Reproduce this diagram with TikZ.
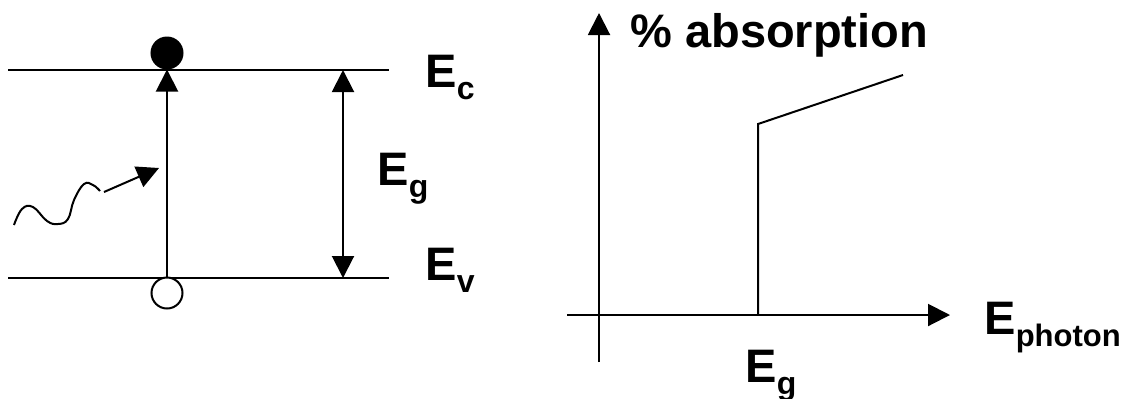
\documentclass[tikz,border=0pt]{standalone}
\usepackage{fontspec}
\setmainfont{Liberation Sans}
\usetikzlibrary{arrows.meta, positioning}
\newcommand{\bandsub}[1]{\raisebox{-6pt}{\fontsize{16}{16}\selectfont #1}}

\begin{document}
\begin{tikzpicture}[
    x=0.5pt, y=-0.5pt,
    font=\fontsize{23.5}{28}\selectfont\bfseries,
    level/.style={line width=1pt},
    arrow/.style={-{Triangle[length=11pt, width=11pt]}, line width=1pt},
    dblarrow/.style={{Triangle[length=11pt, width=11pt]}-{Triangle[length=11pt, width=11pt]}, line width=1pt},
    carrier/.style={circle, draw, line width=1pt, minimum size=15.5pt, inner sep=0pt},
    lbl/.style={anchor=base west, inner sep=0pt}
  ]
    \useasboundingbox (0,0) rectangle (1127,398);

    % Band edges
    \coordinate (cbleft) at (8,70);
    \coordinate (cbright) at (389,70);
    \coordinate (vbleft) at (8,278);
    \coordinate (vbright) at (389,278);
    \draw[level] (cbleft) -- (cbright);
    \draw[level] (vbleft) -- (vbright);

    % Electron and hole
    \node[carrier, fill=black] (elec) at (167,53) {};
    \node[carrier, fill=white] (hole) at (167,293) {};
    \draw[arrow] (hole.north) -- (elec.south);

    % Gap arrow
    \coordinate (gaptop) at (343,70);
    \coordinate (gapbot) at (343,278);
    \draw[dblarrow] (gaptop) -- (gapbot);

    % Labels of the bands
    \node[lbl] (ec) at (425,87) {E\bandsub{c}};
    \node[lbl] (eg) at (377,185) {E\bandsub{g}};
    \node[lbl] (ev) at (425,280) {E\bandsub{v}};

    % Incoming photon
    \draw[level] plot[smooth, tension=0.7] coordinates {(14,225) (22,209) (33,207) (47,221) (58,224) (68,219) (74,200) (84,184) (93,185) (100,191)};
    \coordinate (wavehead) at (104,192);
    \coordinate (hit) at (159,168);
    \draw[arrow] (wavehead) -- (hit);

    % Absorption plot
    \coordinate (origin) at (599,315);
    \coordinate (ybot) at (599,362);
    \coordinate (ytip) at (599,13);
    \coordinate (xleft) at (567,315);
    \coordinate (xtip) at (950,315);
    \draw[arrow] (ybot) -- (ytip);
    \draw[arrow] (xleft) -- (xtip);

    \coordinate (edge) at (758,315);
    \coordinate (edgetop) at (758,124);
    \coordinate (curveend) at (903,75);
    \draw[level] (edge) -- (edgetop) -- (curveend);

    % Plot labels
    \node[lbl] (ylabel) at (630,47) {\% absorption};
    \node[lbl] (xlabel) at (984,334) {E\bandsub{\fontsize{15.5}{16}\selectfont photon}};
    \node[lbl] (gaplabel) at (745,382) {E\bandsub{g}};
\end{tikzpicture}
\end{document}
